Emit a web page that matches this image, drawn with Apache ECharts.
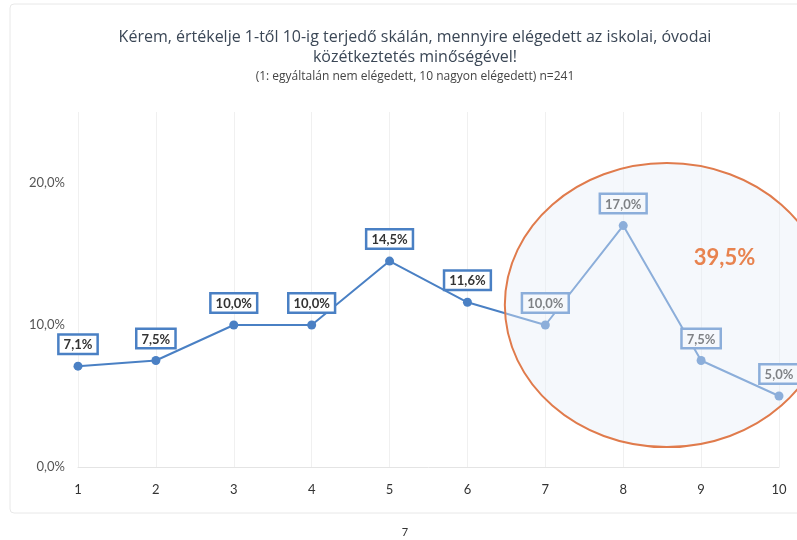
<!DOCTYPE html>
<html>
<head>
<meta charset="utf-8">
<script src="https://cdn.jsdelivr.net/npm/echarts@6/dist/echarts.min.js"></script>
<style>html,body{margin:0;padding:0;background:#fff;}#c{width:797px;height:540px;}</style>
</head>
<body>
<div id="c"></div>
<script>
const categories = ['1','2','3','4','5','6','7','8','9','10'];
const values = [7.1, 7.5, 10.0, 10.0, 14.5, 11.6, 10.0, 17.0, 7.5, 5.0];
const yTicks = [0, 10, 20];
const highlightFrom = 6; // index of category "7"

const fmt = v => v.toFixed(1).replace('.', ',') + '%';
const FONT = 'Lato, "Open Sans", sans-serif';
const TFONT = '"Open Sans", Lato, sans-serif';

const chart = echarts.init(document.getElementById('c'));
chart.setOption({
  animation: false,
  title: {
    text: 'Kérem, értékelje 1-től 10-ig terjedő skálán, mennyire elégedett az iskolai, óvodai\nközétkeztetés minőségével!',
    subtext: '(1: egyáltalán nem elégedett, 10 nagyon elégedett) n=241',
    left: 410, textAlign: 'center', top: 22, itemGap: 4,
    textStyle: { fontFamily: TFONT, fontSize: 16, fontWeight: 'normal', color: '#3b4756', lineHeight: 20, align: 'center' },
    subtextStyle: { fontFamily: TFONT, fontSize: 12, color: '#444', align: 'center' }
  },
  grid: { left: 78, right: 18, top: 112, bottom: 73 },
  xAxis: {
    type: 'category', data: categories, boundaryGap: false,
    axisLine: { show: true, lineStyle: { color: '#e4e4e4' } },
    axisTick: { show: false },
    axisLabel: { fontFamily: FONT, fontSize: 13, color: '#333', margin: 16 },
    splitLine: { show: true, lineStyle: { color: '#f0f0f0' } }
  },
  yAxis: {
    type: 'value', min: 0, max: 25, interval: 10,
    axisLine: { show: false }, axisTick: { show: false },
    axisLabel: { fontFamily: FONT, fontSize: 13, color: '#555', margin: 13,
      showMaxLabel: false, formatter: v => yTicks.includes(v) ? fmt(v) : '' },
    splitLine: { show: false }
  },
  series: [{
    type: 'line', data: values, z: 3,
    symbol: 'circle', symbolSize: 9,
    lineStyle: { color: '#4a80c4', width: 2 },
    itemStyle: { color: '#4a80c4' },
    label: {
      show: true, position: 'top', distance: 9,
      formatter: p => fmt(p.value),
      fontFamily: FONT, fontSize: 13, fontWeight: 'bold', color: '#333',
      backgroundColor: '#fff', borderColor: '#4a80c4', borderWidth: 2.5,
      padding: [3, 4, 1, 4]
    }
  }]
});

const px = (i, v) => chart.convertToPixel({ xAxisIndex: 0, yAxisIndex: 0 }, [i, v]);
const p0 = px(0, 0), p1 = px(1, 0), p10 = px(0, 10);
const step = p1[0] - p0[0];
const unit10 = p0[1] - p10[1];
const cx = p0[0] + 7.56 * step;
const cy = px(0, 11.4)[1];
const total = values.slice(highlightFrom).reduce((a, b) => a + b, 0);
const tpos = [p0[0] + 8.3 * step, px(0, 14.7)[1]];

chart.setOption({
  graphic: [
    { type: 'rect', z: 0, silent: true,
      shape: { x: 10, y: 4, width: 800, height: 509, r: 4 },
      style: { fill: 'none', stroke: '#e8e8e8', lineWidth: 1 } },
    { type: 'ellipse', z: 10, silent: true,
      shape: { cx: cx, cy: cy, rx: 2.08 * step, ry: 1.0 * unit10 },
      style: { fill: 'rgba(232,238,247,0.42)', stroke: '#e07b4c', lineWidth: 2 } },
    { type: 'text', z: 11, silent: true, x: tpos[0], y: tpos[1],
      style: { text: fmt(total), fill: '#e8834f', fontFamily: FONT, fontSize: 22, fontWeight: 'bold',
        align: 'center', verticalAlign: 'middle' } },
    { type: 'text', z: 11, silent: true, x: 405, y: 532,
      style: { text: '7', fill: '#333', fontFamily: FONT, fontSize: 11, align: 'center', verticalAlign: 'middle' } }
  ]
});
</script>
</body>
</html>
